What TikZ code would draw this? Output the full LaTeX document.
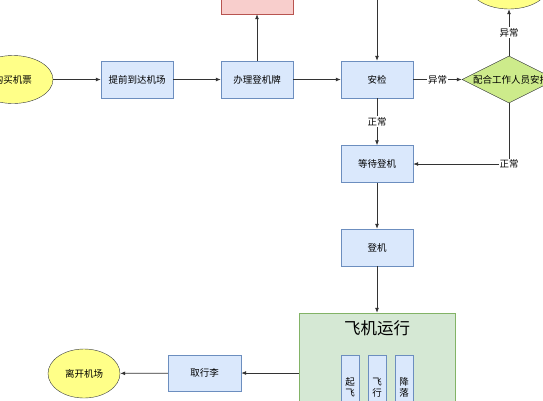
\documentclass[tikz,border=0pt]{standalone}
\usepackage{fontspec}
\setmainfont{Noto Sans CJK SC}
\usetikzlibrary{shapes.geometric,arrows.meta}
\definecolor{bfill}{HTML}{DAE8FC}
\definecolor{bdraw}{HTML}{6C8EBF}
\definecolor{yfill}{HTML}{FFFF88}
\definecolor{ydraw}{HTML}{36393D}
\definecolor{rfill}{HTML}{F8CECC}
\definecolor{rdraw}{HTML}{B85450}
\definecolor{gfill}{HTML}{CDEB8B}
\definecolor{cfill}{HTML}{D5E8D4}
\definecolor{cdraw}{HTML}{82B366}
\definecolor{edge}{HTML}{333333}
\tikzset{
  txt/.style={font=\fontsize{9.5}{11}\selectfont},
  bluebox/.style={txt,draw=bdraw,fill=bfill,rectangle,minimum width=72pt,minimum height=37pt,inner sep=0pt},
  yell/.style={txt,draw=ydraw,fill=yfill,ellipse,inner sep=0pt},
  conn/.style={draw=edge,line width=0.8pt,-{Latex[length=5pt,width=4pt]}},
  lab/.style={txt,fill=white,inner sep=1pt},
  vbox/.style={draw=bdraw,fill=bfill,rectangle,minimum width=18pt,minimum height=76pt,inner sep=0pt},
  vtxt/.style={font=\fontsize{9.5}{11.5}\selectfont,align=center,inner sep=0pt}
}
\begin{document}
\begin{tikzpicture}[x=1pt,y=-1pt]
\useasboundingbox (0,0) rectangle (543,400);
\node[yell,minimum width=80pt,minimum height=48pt] (buy) at (13,79.5) {购买机票};
\node[bluebox] (early) at (137,79.5) {提前到达机场};
\node[bluebox] (checkin) at (257,79.5) {办理登机牌};
\node[txt,draw=rdraw,fill=rfill,rectangle,minimum width=72pt,minimum height=37pt,inner sep=0pt] (red) at (257,-4.5) {};
\node[bluebox] (sec) at (377,79.5) {安检};
\node[draw=ydraw,fill=gfill,diamond,minimum width=94pt,minimum height=47pt,inner sep=0pt,aspect=2] (dia) at (509,79.5) {};
\node[txt,inner sep=0pt] (diatext) at (511,79.5) {配合工作人员安排};
\node[yell,minimum width=80pt,minimum height=48pt] (topell) at (509,-15) {};
\node[bluebox] (wait) at (377,164) {等待登机};
\node[bluebox] (board) at (377,247.5) {登机};
\node[draw=cdraw,fill=cfill,rectangle,minimum width=156pt,minimum height=110pt,inner sep=0pt] (cont) at (377,368) {};
\node[font=\fontsize{16.5}{18}\selectfont] (title) at (377,328) {飞机运行};
\node[vbox,anchor=north] (takeoff) at (350,355) {};
\node[vbox,anchor=north] (fly) at (377,355) {};
\node[vbox,anchor=north] (land) at (404,355) {};
\node[vtxt] (takeofft) at (350,387.5) {起\\飞};
\node[vtxt] (flyt) at (377,387.5) {飞\\行};
\node[vtxt] (landt) at (404,387.5) {降\\落};
\node[bluebox,minimum width=73pt,minimum height=36pt] (bag) at (204.5,373) {取行李};
\node[yell,minimum width=72pt,minimum height=49pt] (leave) at (84,373.5) {离开机场};
\coordinate (secin) at (377,-5);
\draw[conn] (buy) -- (early);
\draw[conn] (early) -- (checkin);
\draw[conn] (checkin) -- (red);
\draw[conn] (checkin) -- (sec);
\draw[conn] (secin) -- (sec);
\draw[conn] (sec) -- node[lab] {异常} (dia);
\draw[conn] (dia) -- node[lab] {异常} (topell);
\draw[conn] (sec) -- node[lab] {正常} (wait);
\draw[conn] (dia.south) -- (dia.south |- wait.east) node[lab] {正常} -- (wait.east);
\draw[conn] (wait) -- (board);
\draw[conn] (board) -- (cont.north);
\draw[conn] (cont.west |- bag.east) -- (bag.east);
\draw[conn] (bag) -- (leave);
\end{tikzpicture}
\end{document}
